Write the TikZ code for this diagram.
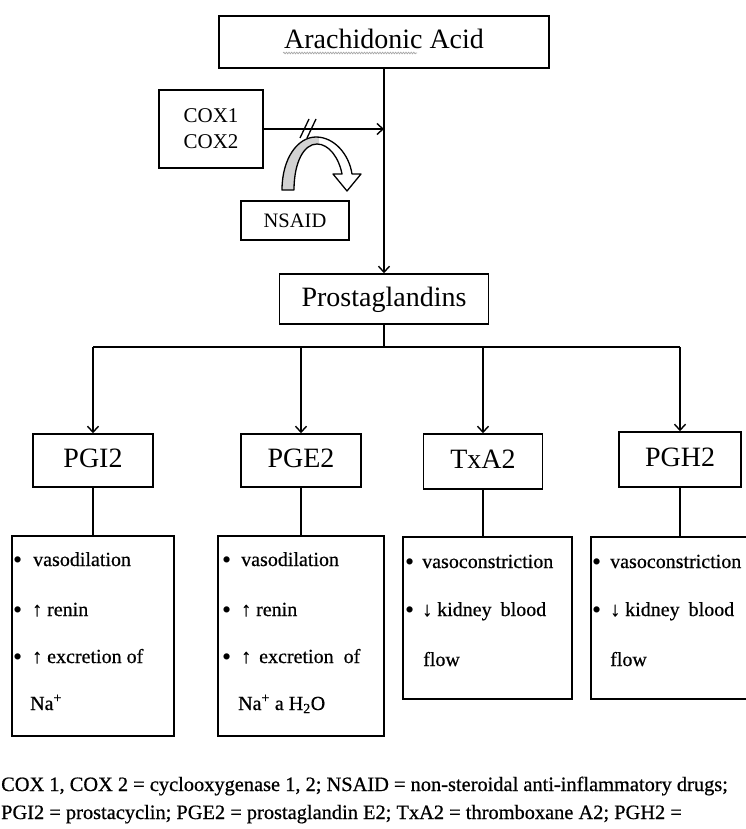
\documentclass[tikz,border=0pt]{standalone}
\usepackage{fontspec}
\setmainfont{Liberation Serif}
\newfontfamily\itemfont{Liberation Serif}[FakeBold=0.6]
\usetikzlibrary{arrows.meta,decorations.pathmorphing,calc}
\tikzset{
  box/.style={draw,line width=1.5pt,inner sep=0pt,align=center},
  title/.style={box,font=\fontsize{28}{30}\selectfont,text height=19pt,text depth=5pt},
  conn/.style={line width=1.5pt},
  arr/.style={conn,-{Straight Barb[length=6pt,width=11pt,line width=1.4pt]}},
  item/.style={anchor=base west,inner sep=0pt,font=\itemfont\fontsize{20}{24}\selectfont},
  dot/.style={anchor=base west,inner sep=0pt,font=\fontsize{26}{26}\selectfont},
  captext/.style={anchor=base west,inner sep=0pt,font=\itemfont\fontsize{20.4}{25}\selectfont},
}
\def\nsaidpath{(282,190) .. controls (282,158) and (298,137) .. (316,137)
  .. controls (334,137) and (349,154) .. (352,174) -- (361,174) -- (347,191)
  -- (333,174) -- (342,174) .. controls (339,158) and (329,144) .. (317,144)
  .. controls (304,144) and (294,162) .. (294,190) -- cycle}
\begin{document}
\begin{tikzpicture}[x=1pt,y=-1pt]
\useasboundingbox (0,0) rectangle (745,829);
\fill[white] (0,0) rectangle (745,829);

% main boxes
\node[title,minimum width=330pt,minimum height=52pt] (aa) at (384,42) {Arachidonic Acid};
\node[box,minimum width=104pt,minimum height=78pt,font=\fontsize{21}{26}\selectfont] (cox) at (211,129) {COX1\\COX2};
\node[box,minimum width=108pt,minimum height=39pt,font=\fontsize{20.5}{24}\selectfont,text height=14pt,text depth=0pt] (nsaid) at (295,220.5) {NSAID};
\node[title,minimum width=209pt,minimum height=50pt] (pg) at (384,299) {Prostaglandins};

\node[title,minimum width=120pt,minimum height=53pt] (pgi2) at (93,460.5) {PGI2};
\node[title,minimum width=120pt,minimum height=53pt] (pge2) at (301,460.5) {PGE2};
\node[title,minimum width=119pt,minimum height=55pt] (txa2) at (483,461.5) {TxA2};
\node[title,minimum width=122pt,minimum height=55pt] (pgh2) at (680,459.5) {PGH2};

% detail boxes
\node[box,minimum width=162pt,minimum height=200pt] (d1) at (93,636) {};
\node[box,minimum width=166pt,minimum height=200pt] (d2) at (301,636) {};
\node[box,minimum width=169pt,minimum height=162pt] (d3) at (487.5,618) {};
\node[box,minimum width=160pt,minimum height=162pt] (d4) at (671,618) {};

% spell-check squiggle
\draw[gray!70,line width=0.7pt,decorate,decoration={snake,amplitude=0.8pt,segment length=2.6pt}] (283,53) -- (417,53);

% connectors
\draw[arr] (aa.south) -- (pg.north);
\coordinate (hit) at (aa.south |- cox.east);
\draw[arr] (cox.east) -- (hit);
\draw[line width=1.3pt] (300,138) -- (309,119);
\draw[line width=1.3pt] (307,138) -- (316,119);

% curved NSAID arrow
\begin{scope}
\clip (270,130) rectangle (319,200);
\fill[gray!35] \nsaidpath;
\end{scope}
\draw[line width=1.3pt,line join=round] \nsaidpath;

\coordinate (bus) at (384,347);
\draw[conn] (pg.south) -- (bus);
\draw[conn] (pgi2.north |- bus) -- (pgh2.north |- bus);
\draw[arr] (pgi2.north |- bus) -- (pgi2.north);
\draw[arr] (pge2.north |- bus) -- (pge2.north);
\draw[arr] (txa2.north |- bus) -- (txa2.north);
\draw[arr] (pgh2.north |- bus) -- (pgh2.north);

\draw[conn] (pgi2.south) -- (pgi2.south |- d1.north);
\draw[conn] (pge2.south) -- (pge2.south |- d2.north);
\draw[conn] (txa2.south) -- (txa2.south |- d3.north);
\draw[conn] (pgh2.south) -- (pgh2.south |- d4.north);

% PGI2 details
\node[dot] (b1a) at (13,568) {•};
\node[item] (t1a) at (33,566) {vasodilation};
\node[dot] (b1b) at (13,618) {•};
\node[item] (t1b) at (32,616) {↑ renin};
\node[dot] (b1c) at (13,665) {•};
\node[item] (t1c) at (32,663) {↑ excretion of};
\node[item] (t1d) at (30,710) {Na\textsuperscript{+}};

% PGE2 details
\node[dot] (b2a) at (222,568) {•};
\node[item] (t2a) at (241,566) {vasodilation};
\node[dot] (b2b) at (222,618) {•};
\node[item] (t2b) at (241,616) {↑ renin};
\node[dot] (b2c) at (222,665) {•};
\node[item] (t2c) at (241,663) {↑\hspace{8pt}excretion\hspace{10pt}of};
\node[item] (t2d) at (238,710) {Na\textsuperscript{+} a H\textsubscript{2}O};

% TxA2 details
\node[dot] (b3a) at (405,570) {•};
\node[item] (t3a) at (422,568) {vasoconstriction};
\node[dot] (b3b) at (405,618) {•};
\node[item] (t3b) at (422,616) {↓ kidney\hspace{4pt} blood};
\node[item] (t3c) at (423,666) {flow};

% PGH2 details
\node[dot] (b4a) at (592,570) {•};
\node[item] (t4a) at (610,568) {vasoconstriction};
\node[dot] (b4b) at (592,618) {•};
\node[item] (t4b) at (610,616) {↓ kidney\hspace{4pt} blood};
\node[item] (t4c) at (610,666) {flow};

% caption
\node[captext] (c1) at (1,791) {COX 1, COX 2 = cyclooxygenase 1, 2; NSAID = non-steroidal anti-inflammatory drugs;};
\node[captext] (c2) at (1,819) {PGI2 = prostacyclin; PGE2 = prostaglandin E2; TxA2 = thromboxane A2; PGH2 =};
\end{tikzpicture}
\end{document}
